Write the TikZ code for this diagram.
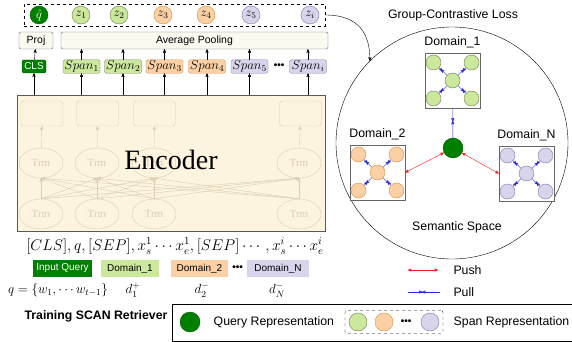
\RequirePackage{fix-cm}
\documentclass[tikz,border=0pt]{standalone}
\usepackage{amsmath}
\usepackage{amssymb}
\usepackage{fontspec}
\newfontfamily\lsans{Liberation Sans}
\newfontfamily\lserif{Liberation Serif}
\usepackage{tikz}
\usetikzlibrary{arrows,positioning,decorations.markings,shapes.geometric}
\definecolor{qgreen}{RGB}{0,128,0}
\definecolor{ggreen}{RGB}{204,232,156}
\definecolor{ggreenD}{RGB}{105,125,80}
\definecolor{oorange}{RGB}{250,208,164}
\definecolor{oorangeD}{RGB}{215,140,60}
\definecolor{llav}{RGB}{216,212,236}
\definecolor{llavD}{RGB}{125,118,170}
\definecolor{enccream}{RGB}{252,244,222}
\definecolor{encfade}{RGB}{216,206,180}
\definecolor{poolcream}{RGB}{251,250,240}
\definecolor{pullblue}{RGB}{40,40,220}
\definecolor{pushred}{RGB}{240,30,30}
\tikzset{>=stealth'}
\tikzstyle{sans}=[font=\lsans\fontsize{12.3}{14}\selectfont]
\tikzstyle{small sans}=[font=\lsans\fontsize{10}{12}\selectfont]
\tikzstyle{zcirc}=[circle, draw, minimum size=18pt, inner sep=0pt, font=\fontsize{12.5}{14}\selectfont]
\tikzstyle{spanbox}=[draw, rounded corners=1.5pt, minimum height=13pt,
   minimum width=37pt, inner sep=1pt, font=\fontsize{13}{15}\selectfont]
\tikzstyle{poolbox}=[draw=black!60, fill=poolcream, rounded corners=2pt,
   minimum height=17pt, inner sep=2pt, font=\lsans\fontsize{10.5}{12}\selectfont]
\tikzstyle{dombox}=[minimum height=17pt, inner sep=2pt, small sans]
\tikzstyle{fadearrow}=[encfade, ->, thin]
\tikzstyle{trm}=[ellipse, draw=encfade, text=encfade, minimum width=44pt,
   minimum height=30pt, inner sep=0pt, font=\lserif\fontsize{11}{12}\selectfont]
\tikzstyle{dotc}=[circle, draw, minimum size=15pt, inner sep=0pt]
\tikzstyle{groupbox}=[draw=black!60, fill=white, minimum size=55pt, inner sep=0pt]
\tikzstyle{push}=[pushred, <->]
\tikzstyle{pull}=[pullblue, postaction={decorate},
   decoration={markings, mark=at position 0.45 with {\arrow{>}},
     mark=at position 0.55 with {\arrow{<}}}]
\tikzstyle{mathlab}=[font=\fontsize{13.2}{15}\selectfont]
% one domain of the semantic space: box, middle span and four corner spans
\newcommand{\spacegroup}[4]{%
  \node[groupbox] (#1) at (#2) {};
  \node[dotc, fill=#3, draw=#4] (#1-m) at (#1.center) {};
  \foreach \dx/\dy/\k in {-19/-18/a, 19/-18/b, -19/18/c, 19/18/d}
    {\node[dotc, fill=#3, draw=#4] (#1-\k) at ([shift={(\dx,\dy)}]#1.center) {};
     \draw[pull] (#1-\k) -- (#1-m);}
}

\begin{document}
\begin{tikzpicture}[x=1pt, y=-1pt]
   \useasboundingbox (0,0) rectangle (572,342);
   % representations
   \node[draw, dashed, minimum width=301pt, minimum height=22pt] (reps) at (174.5,15) {};
   \node[zcirc, fill=qgreen, draw=qgreen!70!black, text=white] (qhat) at (39,15) {$\hat{q}$};
   \node[zcirc, fill=ggreen, draw=ggreenD] (z1) at (81,15) {$z_1$};
   \node[zcirc, fill=ggreen, draw=ggreenD] (z2) at (119,15) {$z_2$};
   \node[zcirc, fill=oorange, draw=oorangeD] (z3) at (163,15) {$z_3$};
   \node[zcirc, fill=oorange, draw=oorangeD] (z4) at (206,15) {$z_4$};
   \node[zcirc, fill=llav, draw=llavD] (z5) at (251,15) {$z_5$};
   \node[zcirc, fill=llav, draw=llavD] (zi) at (310,15) {$z_i$};
   % pooling
   \node[poolbox, minimum width=34pt] (proj) at (36,40.5) {Proj};
   \node[poolbox, minimum width=267pt] (pool) at (194.5,40.5) {Average Pooling};
   \node[draw=qgreen!70!black, fill=qgreen, text=white, rounded corners=1.5pt,
      minimum height=13pt, minimum width=24pt, inner sep=1pt, small sans] (cls) at (34,66.5) {CLS};
   \node[spanbox, fill=ggreen, draw=ggreenD] (span1) at (81.5,66.5) {$Span_1$};
   \node[spanbox, fill=ggreen, draw=ggreenD] (span2) at (123,66.5) {$Span_2$};
   \node[spanbox, fill=oorange, draw=oorangeD] (span3) at (164.5,66.5) {$Span_3$};
   \node[spanbox, fill=oorange, draw=oorangeD] (span4) at (207,66.5) {$Span_4$};
   \node[spanbox, fill=llav, draw=llavD] (span5) at (249.5,66.5) {$Span_5$};
   \node[spanbox, fill=llav, draw=llavD] (spani) at (308,66.5) {$Span_i$};
   \node[small sans, inner sep=0pt] (sdots) at (279,66.5) {\textbf{•••}};
   \draw[->] (cls) -- (proj);
   \foreach \s in {span1,span2,span3,span4,span5,spani}
     \draw[->] (\s) -- (\s |- pool.south);
   % encoder
   \node[draw=black!65, fill=enccream, minimum width=308pt, minimum height=136pt] (enc) at (171,163) {};
   \foreach \i/\x in {1/42,2/97.5,3/154.5,4/300.5}
     \node[draw=encfade, rounded corners=3pt, minimum width=42pt, minimum height=25pt] (out\i) at (\x,113.5) {};
   \foreach \i/\x in {1/41,2/97,3/154,4/299}
     {\node[trm] (tu\i) at (\x,163) {Trm};
      \node[trm] (tl\i) at (\x,214) {Trm};
      \draw[fadearrow] (tu\i) -- (out\i);}
   \foreach \i in {1,...,4}
     \foreach \j in {1,...,4}
       \draw[fadearrow] (tl\i.north) -- (tu\j.south);
   \node[font=\lserif\fontsize{28}{30}\selectfont] (enclab) at (171,160) {Encoder};
   \foreach \s in {cls,span1,span2,span3,span4,span5,spani}
     \draw[->] (\s |- enc.north) -- (\s);
   % inputs
   \node[font=\fontsize{15.5}{18}\selectfont] (seq) at (175,246) {$[CLS], q, [SEP], x_s^1 \cdots x_e^1, [SEP] \cdots, x_s^i \cdots x_e^i$};
   \node[dombox, fill=qgreen, text=white, minimum width=59pt] (inq) at (62.5,268.5) {Input Query};
   \node[dombox, fill=ggreen, minimum width=58pt] (dom1) at (130,268.5) {Domain\_1};
   \node[dombox, fill=oorange, minimum width=57pt] (dom2) at (199.5,268.5) {Domain\_2};
   \node[small sans, inner sep=0pt] (ddots) at (237.5,268.5) {\textbf{•••}};
   \node[dombox, fill=llav, minimum width=62pt] (domN) at (278,268.5) {Domain\_N};
   \node[mathlab] (qdef) at (58,290) {$q=\{w_1,\cdots w_{t-1}\}$};
   \node[mathlab] (d1) at (133,290) {$d_1^+$};
   \node[mathlab] (d2) at (202,290) {$d_2^-$};
   \node[mathlab] (dN) at (277,290) {$d_N^-$};
   \node[font=\lsans\bfseries\fontsize{12.3}{14}\selectfont] (train) at (96,316) {Training SCAN Retriever};
   % legend
   \node[draw, minimum width=430pt, minimum height=37pt, anchor=north west] (legend) at (172,304) {};
   \node[circle, fill=qgreen, draw=qgreen!70!black, minimum size=20pt] (legq) at (190,322) {};
   \node[sans, right=10pt of legq] (legqt) {Query Representation};
   \node[draw, dashed, rounded corners=2pt, minimum width=98pt, minimum height=23pt] (legspan) at (394,322) {};
   \node[dotc, minimum size=18pt, fill=ggreen, draw=ggreenD] (leg1) at (358,322) {};
   \node[dotc, minimum size=18pt, fill=oorange, draw=oorangeD] (leg2) at (384,322) {};
   \node[small sans, inner sep=0pt] (legdots) at (406,322) {\textbf{•••}};
   \node[dotc, minimum size=18pt, fill=llav, draw=llavD] (leg3) at (430,322) {};
   \node[sans, right=7pt of legspan] (legst) {Span Representation};
   \coordinate (pushL) at (408,270);
   \coordinate (pushR) at (438,270);
   \draw[push] (pushL) -- (pushR);
   \node[sans, anchor=west] (pusht) at (450,270) {Push};
   \coordinate (pullL) at (408,292);
   \coordinate (pullR) at (440,292);
   \draw[pull] (pullL) -- (pullR);
   \node[sans, anchor=west] (pullt) at (450,292) {Pull};
   % semantic space
   \node[sans] (gcl) at (453,15) {Group-Contrastive Loss};
   \node[draw, circle, minimum size=232pt, inner sep=0pt] (space) at (452,143) {};
   \draw[->] (reps.east) .. controls (360,15) and (370,35) .. (space.north west);
   \spacegroup{g1}{452.5,80.5}{ggreen}{ggreenD}
   \spacegroup{g2}{377.5,172.5}{oorange}{oorangeD}
   \spacegroup{gN}{526.5,173.5}{llav}{llavD}
   \node[sans, above=1pt of g1] (g1t) {Domain\_1};
   \node[sans, above=1pt of g2] (g2t) {Domain\_2};
   \node[sans, above=1pt of gN] (gNt) {Domain\_N};
   \node[circle, fill=qgreen, draw=qgreen!70!black, minimum size=20pt] (qc) at (453,148) {};
   \draw[pull] (g1) -- (qc);
   \draw[push] (qc) -- (g2.east);
   \draw[push] (qc) -- (gN.west);
   \node[sans] (sem) at (457,227) {Semantic Space};
\end{tikzpicture}
\end{document}
